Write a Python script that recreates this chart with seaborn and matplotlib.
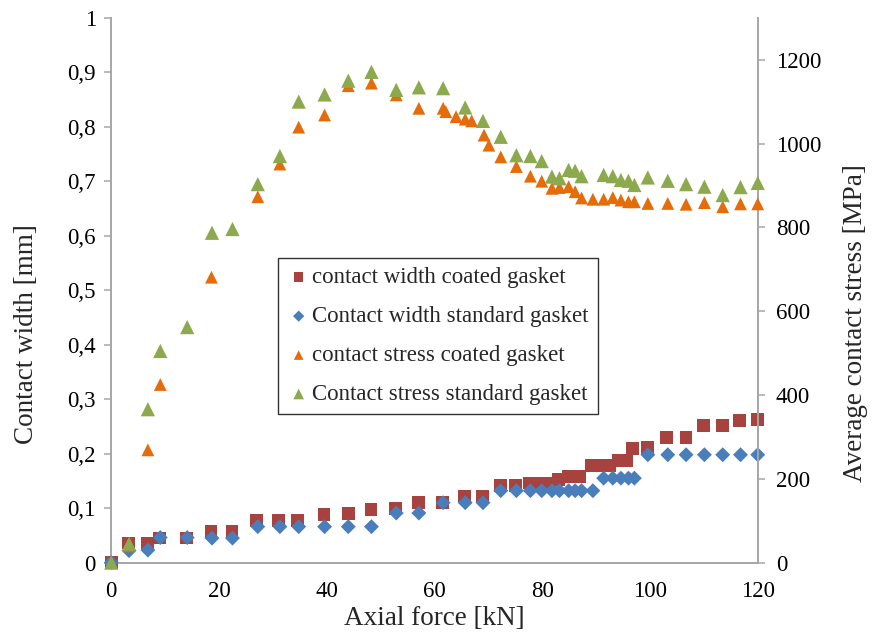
import matplotlib
matplotlib.use("Agg")
import matplotlib.pyplot as plt
from matplotlib.ticker import FuncFormatter
import seaborn as sns
import pandas as pd

# ---- data ----
force_width_coated = [0, 3.2, 6.8, 9.0, 14.0, 18.5, 22.4, 27.0, 31.1, 34.6, 39.5, 44.0, 48.2, 52.7,
                      57.0, 61.5, 65.6, 68.9, 72.3, 75.1, 77.7, 79.7, 81.3, 83.0, 84.9, 87.0, 89.2,
                      90.8, 92.5, 94.1, 95.6, 96.8, 99.5, 103.1, 106.7, 110.0, 113.4, 116.6, 120.0]
width_coated = [0, 0.036, 0.036, 0.045, 0.045, 0.057, 0.057, 0.078, 0.078, 0.078, 0.089, 0.09,
                0.098, 0.1, 0.11, 0.11, 0.121, 0.121, 0.142, 0.142, 0.146, 0.146, 0.146, 0.152,
                0.158, 0.158, 0.178, 0.178, 0.178, 0.188, 0.188, 0.209, 0.212, 0.23, 0.23, 0.251,
                0.251, 0.261, 0.263]

force_width_standard = [0, 3.3, 6.8, 9.1, 14.1, 18.7, 22.5, 27.2, 31.3, 34.8, 39.6, 44.0, 48.3,
                        52.9, 57.1, 61.6, 65.7, 69.0, 72.3, 75.2, 77.8, 79.9, 81.8, 83.2, 84.9,
                        86.1, 87.3, 89.4, 91.4, 93.1, 94.6, 96.0, 97.1, 99.6, 103.3, 106.7,
                        110.1, 113.5, 116.8, 120.0]
width_standard = [0, 0.022, 0.023, 0.046, 0.046, 0.045, 0.045, 0.066, 0.066, 0.066, 0.066, 0.066,
                  0.066, 0.091, 0.091, 0.11, 0.11, 0.11, 0.132, 0.132, 0.132, 0.132, 0.132, 0.132,
                  0.132, 0.132, 0.132, 0.132, 0.155, 0.155, 0.155, 0.155, 0.155, 0.198, 0.198,
                  0.198, 0.198, 0.198, 0.198, 0.198]

force_stress_coated = [0, 3.3, 6.8, 9.1, 18.6, 27.2, 31.3, 34.8, 39.6, 44.0, 48.3, 52.9, 57.1,
                       61.6, 62.1, 64.0, 65.7, 66.9, 69.2, 70.1, 72.3, 75.2, 77.8, 79.9, 81.8,
                       83.2, 84.9, 86.1, 87.3, 89.4, 91.4, 93.1, 94.6, 96.0, 97.1, 99.6, 103.3,
                       106.7, 110.1, 113.5, 116.8, 120.0]
stress_coated = [0, 40, 269, 425, 681, 873, 951, 1039, 1068, 1138, 1144, 1116, 1084, 1084, 1076,
                 1064, 1058, 1054, 1020, 996, 968, 945, 922, 910, 893, 895, 897, 885, 870, 867,
                 867, 871, 865, 861, 861, 857, 857, 855, 859, 849, 856, 856]

force_stress_standard = [0, 3.3, 6.8, 9.1, 14.1, 18.7, 22.5, 27.2, 31.3, 34.8, 39.6, 44.0, 48.3,
                         52.9, 57.1, 61.6, 65.7, 69.0, 72.3, 75.2, 77.8, 79.9, 81.8, 83.2, 84.9,
                         86.1, 87.3, 91.4, 93.1, 94.6, 96.0, 97.1, 99.6, 103.3, 106.7, 110.1,
                         113.5, 116.8, 120.0]
stress_standard = [0, 45, 366, 505, 562, 787, 796, 903, 970, 1100, 1117, 1150, 1171, 1128, 1134,
                   1132, 1086, 1054, 1016, 972, 970, 958, 921, 917, 937, 935, 922, 925, 922, 913,
                   911, 901, 919, 911, 903, 897, 877, 896, 906]

labels = ["contact width coated gasket", "Contact width standard gasket",
          "contact stress coated gasket", "Contact stress standard gasket"]
x_ticks = [0, 20, 40, 60, 80, 100, 120]
left_ticks = [0, 0.1, 0.2, 0.3, 0.4, 0.5, 0.6, 0.7, 0.8, 0.9, 1.0]
right_ticks = [0, 200, 400, 600, 800, 1000, 1200]

# ---- styling ----
sns.set_theme(style="white")
plt.rcParams["font.family"] = ["Liberation Serif", "DejaVu Serif"]
gray = "#A6A6A6"
c_red, c_blue, c_orange, c_green = "#A8423F", "#4A7EBB", "#E46C0A", "#8CAA4D"

fig = plt.figure(figsize=(8.76, 6.35), dpi=100)
ax = fig.add_axes([0.127, 0.114, 0.738, 0.858])
ax2 = ax.twinx()

df_wc = pd.DataFrame({"F": force_width_coated, "v": width_coated})
df_ws = pd.DataFrame({"F": force_width_standard, "v": width_standard})
df_sc = pd.DataFrame({"F": force_stress_coated, "v": stress_coated})
df_ss = pd.DataFrame({"F": force_stress_standard, "v": stress_standard})

sns.scatterplot(data=df_wc, x="F", y="v", ax=ax, marker="s", s=85, color=c_red,
                edgecolor="none", label=labels[0], legend=False, clip_on=False, zorder=3)
sns.scatterplot(data=df_ws, x="F", y="v", ax=ax, marker="D", s=58, color=c_blue,
                edgecolor="none", label=labels[1], legend=False, clip_on=False, zorder=4)
sns.scatterplot(data=df_sc, x="F", y="v", ax=ax2, marker="^", s=85, color=c_orange,
                edgecolor="none", label=labels[2], legend=False, clip_on=False, zorder=3)
sns.scatterplot(data=df_ss, x="F", y="v", ax=ax2, marker="^", s=105, color=c_green,
                edgecolor="none", label=labels[3], legend=False, clip_on=False, zorder=4)

ax.set_xlim(0, 120)
ax.set_ylim(0, 1)
ax2.set_ylim(0, 1300)
ax.set_xticks(x_ticks)
ax.set_yticks(left_ticks)
ax2.set_yticks(right_ticks)

def comma_fmt(v, pos):
    return f"{v:g}".replace(".", ",")

ax.yaxis.set_major_formatter(FuncFormatter(comma_fmt))
ax2.yaxis.set_major_formatter(FuncFormatter(lambda v, p: f"{int(v)}"))

for a in (ax, ax2):
    for side, sp in a.spines.items():
        sp.set_color(gray)
        sp.set_linewidth(1.4)
    a.spines["top"].set_visible(False)
    a.tick_params(axis="both", direction="out", length=5, width=1.1, color=gray,
                  labelsize=16.5, labelcolor="black")
    a.grid(False)
ax.spines["right"].set_visible(False)
ax2.spines["left"].set_visible(False)
ax2.spines["bottom"].set_visible(False)
ax.tick_params(axis="y", pad=6)
ax.tick_params(axis="x", pad=8)
ax2.tick_params(axis="y", pad=8)

ax.set_xlabel("Axial force [kN]", fontsize=19.5, labelpad=3)
ax.set_ylabel("Contact width [mm]", fontsize=19.5, labelpad=10)
ax.yaxis.set_label_coords(-0.112, 0.42)
ax2.set_ylabel("Average contact stress [MPa]", fontsize=19.5, labelpad=12)
ax2.yaxis.set_label_coords(1.132, 0.44)

h1, l1 = ax.get_legend_handles_labels()
h2, l2 = ax2.get_legend_handles_labels()
leg = ax2.legend(h1 + h2, l1 + l2, loc="upper left", bbox_to_anchor=(0.258, 0.559),
                 frameon=True, fancybox=False, edgecolor="black", fontsize=16.5,
                 handletextpad=0.1, handlelength=1.0, borderpad=0.4, labelspacing=0.78,
                 markerscale=0.75, borderaxespad=0)
leg.get_frame().set_linewidth(1.0)
leg.set_zorder(10)

fig.savefig("out.png", dpi=100)
